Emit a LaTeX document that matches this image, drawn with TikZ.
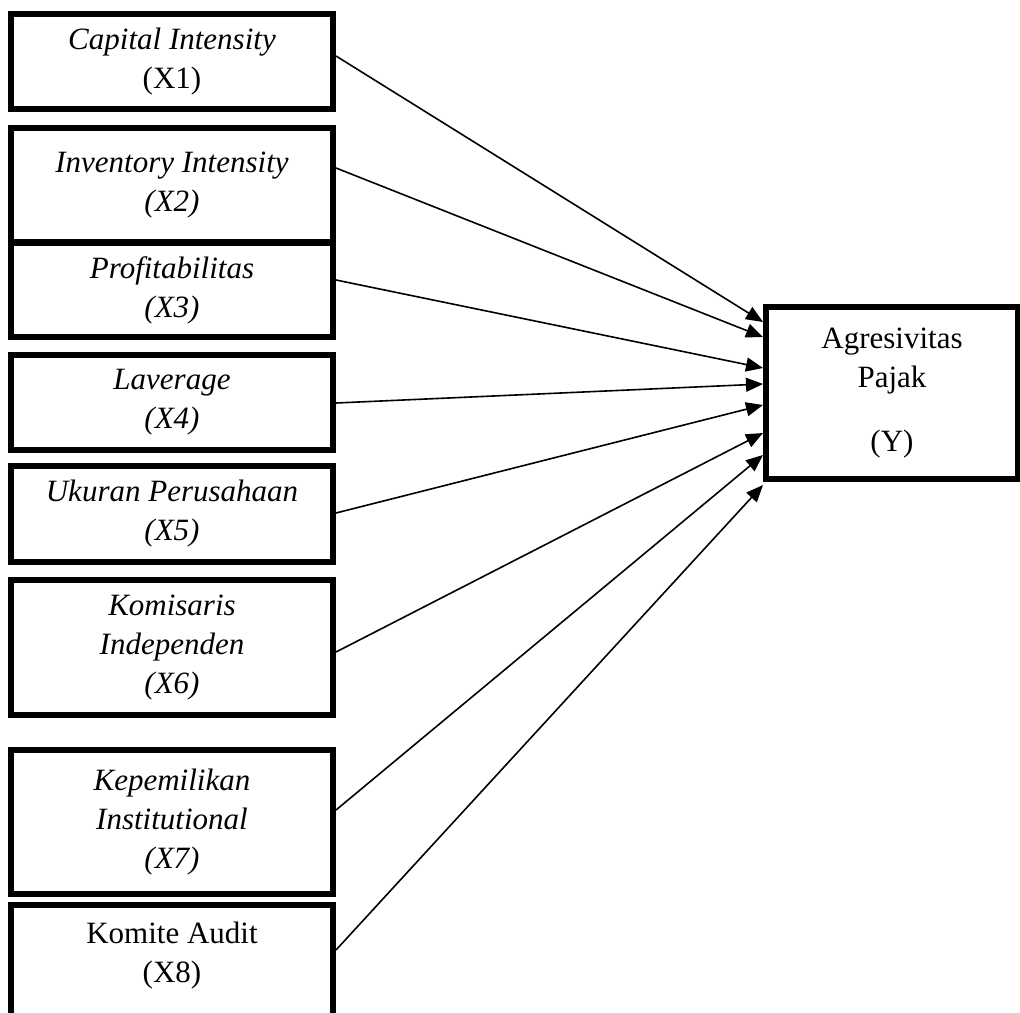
\documentclass[tikz,border=0pt]{standalone}
\usepackage{fontspec}
\setmainfont{Liberation Serif}
\usetikzlibrary{arrows.meta, calc}

\begin{document}
\begin{tikzpicture}[
    x=1pt, y=-1pt,
    varbox/.style={rectangle, draw=black, line width=6pt, fill=white, minimum width=322pt, align=center, inner sep=0pt, font=\fontsize{31}{39}\selectfont},
    link/.style={line width=1.6pt, -{Triangle[length=17pt, width=14pt]}}
]
\useasboundingbox (0,0) rectangle (1020,1012);

% Independent variables
\node[varbox, minimum height=95pt] (capital) at (172,61.5) {\textit{Capital Intensity}\\(X1)};
\node[varbox, minimum height=114pt] (inventory) at (172,185) {\textit{Inventory Intensity}\\\textit{(X2)}};
\node[varbox, minimum height=94pt] (profit) at (172,290) {\textit{Profitabilitas}\\\textit{(X3)}};
\node[varbox, minimum height=95pt] (leverage) at (172,402.5) {\textit{Laverage}\\\textit{(X4)}};
\node[varbox, minimum height=96pt] (size) at (172,514) {\textit{Ukuran Perusahaan}\\\textit{(X5)}};
\node[varbox, minimum height=135pt] (komisaris) at (172,647.5) {\textit{Komisaris}\\\textit{Independen}\\\textit{(X6)}};
\node[varbox, minimum height=144pt] (inst) at (172,822) {\textit{Kepemilikan}\\\textit{Institutional}\\\textit{(X7)}};
\node[varbox, minimum height=125pt, text depth=30pt] (audit) at (172,967.5) {Komite Audit\\(X8)};

% Dependent variable
\node[varbox, minimum width=252pt, minimum height=172pt] (agresi) at (892,393) {Agresivitas\\Pajak\\[25pt](Y)};

% Paths
\foreach \src/\sy/\ey in {capital/-5.5/-71, inventory/-17/-56, profit/-10/-25, leverage/0.5/-9, size/-1/12, komisaris/4.5/40, inst/-12/62, audit/-17.5/92}
    \draw[link] ($(\src.east)+(0,\sy)$) -- ($(agresi.west)+(0,\ey)$);
\end{tikzpicture}
\end{document}
